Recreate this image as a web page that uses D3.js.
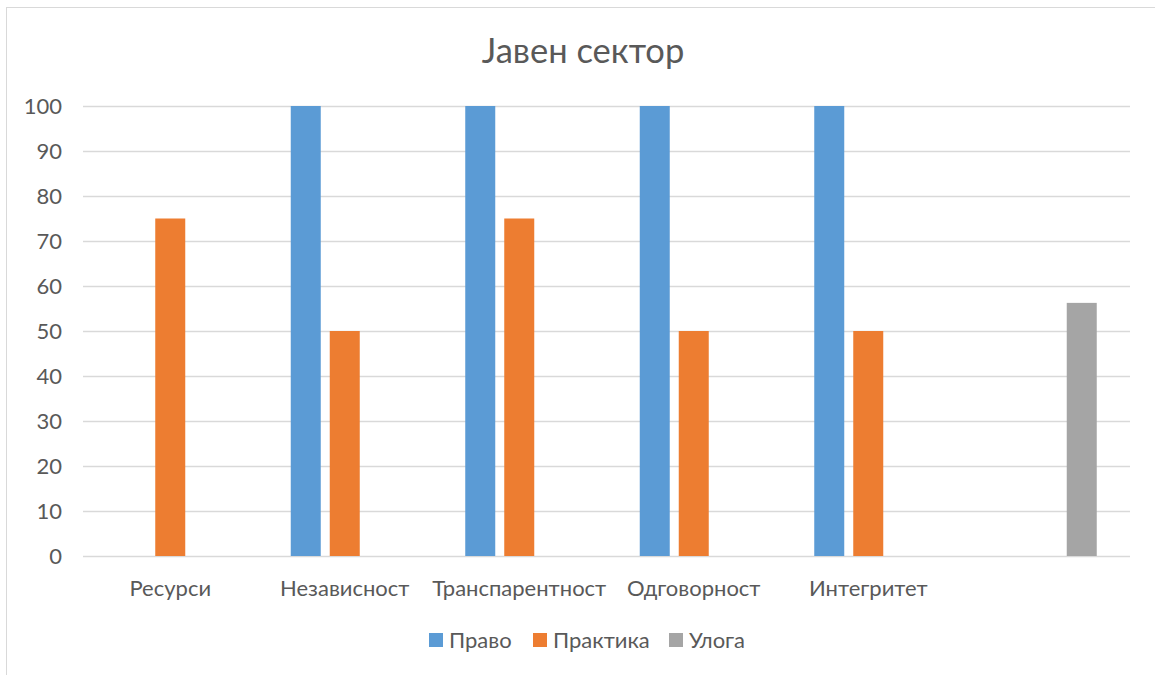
<!DOCTYPE html>
<html>
<head>
<meta charset="utf-8">
<script src="https://cdn.jsdelivr.net/npm/d3@7/dist/d3.min.js"></script>
<style>
  html, body { margin: 0; padding: 0; background: #fff; }
  svg { display: block; }
  text { font-family: Lato, "Open Sans", "Liberation Sans", sans-serif; fill: #595959; }
</style>
</head>
<body>
<svg id="chart" width="1155" height="675"></svg>
<script>
// Category names along the x axis (the last group has no label)
const categories = ["Ресурси", "Независност", "Транспарентност", "Одговорност", "Интегритет", ""];
const seriesNames = ["Право", "Практика", "Улога"];
const seriesColors = ["#5B9BD5", "#ED7D31", "#A5A5A5"];
// Values per series, one per category (null = no bar)
const pravo    = [null, 100, 100, 100, 100, null];
const praktika = [75, 50, 75, 50, 50, null];
const uloga    = [null, null, null, null, null, 56.25];
const yTicks = [0, 10, 20, 30, 40, 50, 60, 70, 80, 90, 100];

const seriesValues = [pravo, praktika, uloga];
const FONT = "Lato, 'Open Sans', 'Liberation Sans', sans-serif";

const svg = d3.select("#chart");

// Outer chart frame
svg.append("rect")
  .attr("x", 6.5).attr("y", 7.5)
  .attr("width", 1160).attr("height", 700)
  .attr("fill", "#fff")
  .attr("stroke", "#d9d9d9").attr("stroke-width", 1);

const plot = { left: 83, right: 1130, top: 106, bottom: 556 };

const x = d3.scaleBand()
  .domain(d3.range(categories.length))
  .range([plot.left, plot.right])
  .paddingInner(0).paddingOuter(0);

const y = d3.scaleLinear().domain([0, 100]).range([plot.bottom, plot.top]);

// Grid lines
svg.append("g")
  .selectAll("line")
  .data(yTicks)
  .join("line")
  .attr("x1", plot.left).attr("x2", plot.right)
  .attr("y1", d => Math.round(y(d)) + 0.5)
  .attr("y2", d => Math.round(y(d)) + 0.5)
  .attr("stroke", "#d9d9d9").attr("stroke-width", 1.5);

// Y axis labels
const yAxis = d3.axisLeft(y).tickValues(yTicks).tickSize(0).tickPadding(0);
const yg = svg.append("g").attr("transform", `translate(${plot.left - 21},0)`).call(yAxis);
yg.select(".domain").remove();
yg.attr("font-family", FONT).attr("font-size", 22);
yg.selectAll("text").attr("fill", "#595959");

// Bars: three series grouped within each category
const barW = 30, gap = 9;
const groupW = seriesNames.length * barW + (seriesNames.length - 1) * gap;

const bars = [];
seriesValues.forEach((vals, s) => {
  vals.forEach((v, i) => {
    if (v != null) bars.push({ s, i, v });
  });
});

svg.append("g")
  .selectAll("rect")
  .data(bars)
  .join("rect")
  .attr("x", d => x(d.i) + x.bandwidth() / 2 - groupW / 2 + d.s * (barW + gap))
  .attr("y", d => y(d.v))
  .attr("width", barW)
  .attr("height", d => y(0) - y(d.v))
  .attr("fill", d => seriesColors[d.s]);

// X axis category labels
const xAxis = d3.axisBottom(x).tickFormat(i => categories[i]).tickSize(0).tickPadding(0);
const xg = svg.append("g").attr("transform", `translate(0,${plot.bottom + 24})`).call(xAxis);
xg.select(".domain").remove();
xg.attr("font-family", FONT).attr("font-size", 22);
xg.selectAll("text").attr("fill", "#595959");

// Title
svg.append("text")
  .attr("x", 583).attr("y", 63)
  .attr("text-anchor", "middle")
  .attr("font-size", 34.5)
  .text("Јавен сектор");

// Legend
const legendX = [429, 533, 669];
const lg = svg.append("g");
seriesNames.forEach((name, s) => {
  lg.append("rect")
    .attr("x", legendX[s]).attr("y", 633)
    .attr("width", 14).attr("height", 14)
    .attr("fill", seriesColors[s]);
  lg.append("text")
    .attr("x", legendX[s] + 20).attr("y", 648)
    .attr("font-size", 22)
    .text(name);
});
</script>
</body>
</html>
